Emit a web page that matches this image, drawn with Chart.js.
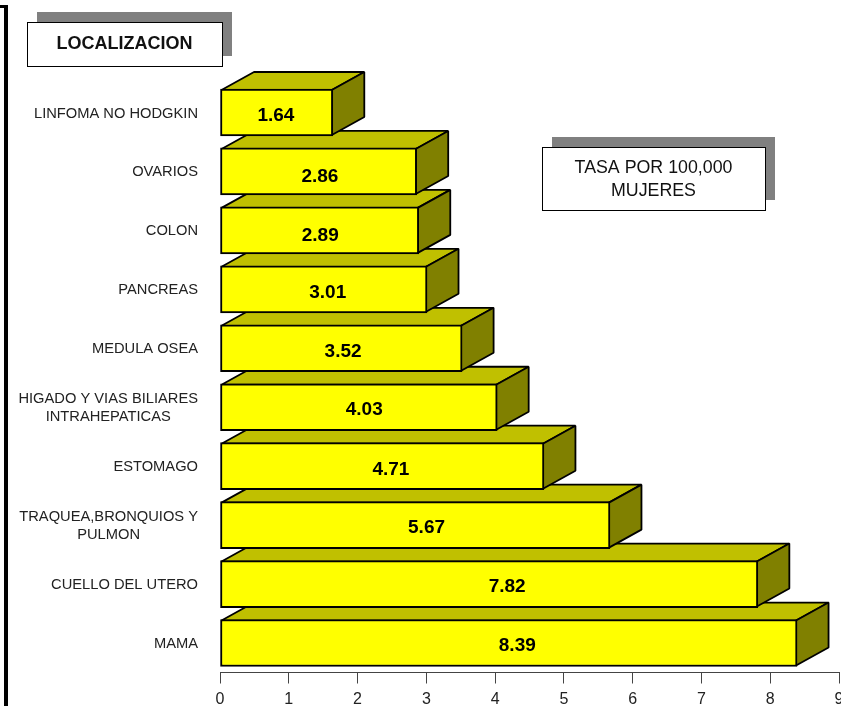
<!DOCTYPE html>
<html>
<head>
<meta charset="utf-8">
<title>Localizacion</title>
<script src="https://cdn.jsdelivr.net/npm/chart.js@4"></script>
<style>
    html, body { margin: 0; padding: 0; background: #fff; overflow: hidden; }
    #wrap { width: 841px; height: 706px; }
</style>
</head>
<body>
<div id="wrap"><canvas id="barChart" width="841" height="706"></canvas></div>
<script>
const categories = [
    'LINFOMA NO HODGKIN', 'OVARIOS', 'COLON', 'PANCREAS', 'MEDULA OSEA',
    ['HIGADO Y VIAS BILIARES', 'INTRAHEPATICAS'], 'ESTOMAGO',
    ['TRAQUEA,BRONQUIOS Y', 'PULMON'], 'CUELLO DEL UTERO', 'MAMA'
];
const tasas = [1.64, 2.86, 2.89, 3.01, 3.52, 4.03, 4.71, 5.67, 7.82, 8.39];
const fontName = '"Liberation Sans", Arial, sans-serif';
const depthX = 32.5;
const depthY = -18;

// sides and tops of the bars, bottom bar first so upper bars cover lower ones
const depthPlugin = {
    id: 'depth',
    beforeDatasetsDraw(chart) {
        const ctx = chart.ctx;
        const bars = chart.getDatasetMeta(0).data;
        ctx.save();
        ctx.lineWidth = 1.8;
        ctx.strokeStyle = '#000';
        ctx.lineJoin = 'bevel';
        for (let i = bars.length - 1; i >= 0; i--) {
            const bar = bars[i];
            const left = bar.base + 1;
            const right = bar.x - 1;
            const top = bar.y - bar.height / 2 + 1;
            const bottom = bar.y + bar.height / 2 - 1;
            ctx.fillStyle = '#C0C000';
            ctx.beginPath();
            ctx.moveTo(left, top);
            ctx.lineTo(left + depthX, top + depthY);
            ctx.lineTo(right + depthX, top + depthY);
            ctx.lineTo(right, top);
            ctx.closePath();
            ctx.fill();
            ctx.stroke();
            ctx.fillStyle = '#808000';
            ctx.beginPath();
            ctx.moveTo(right, top);
            ctx.lineTo(right + depthX, top + depthY);
            ctx.lineTo(right + depthX, bottom + depthY);
            ctx.lineTo(right, bottom);
            ctx.closePath();
            ctx.fill();
            ctx.stroke();
        }
        ctx.restore();
    }
};

// the labels were placed by hand in the original, so they sit a bit off the bar centre
const nudgeX = [-0.7, 1.3, 0.6, 4, 1.8, 5.4, 8.7, 11.3, 18, 8.5];
const nudgeY = [2.9, 5.3, 5, 3.4, 3.4, 3, 3.8, 2.9, 2.7, 2.9];

const valueLabels = {
    id: 'valueLabels',
    afterDatasetsDraw(chart) {
        const ctx = chart.ctx;
        const bars = chart.getDatasetMeta(0).data;
        ctx.save();
        ctx.fillStyle = '#000';
        ctx.font = 'bold 19px ' + fontName;
        ctx.textAlign = 'center';
        ctx.textBaseline = 'middle';
        bars.forEach((bar, i) => {
            ctx.fillText(tasas[i].toFixed(2), (bar.base + bar.x) / 2 + nudgeX[i], bar.y + nudgeY[i]);
        });
        ctx.restore();
    }
};

// the two-line categories are centred on their longest line, which chart.js ticks can't do
const categoryLabels = {
    id: 'categoryLabels',
    afterDraw(chart) {
        const ctx = chart.ctx;
        const scale = chart.scales.y;
        ctx.save();
        ctx.fillStyle = '#222';
        ctx.font = '14.7px ' + fontName;
        ctx.textBaseline = 'middle';
        categories.forEach((label, i) => {
            const y = scale.getPixelForValue(i) + 1;
            const lines = [].concat(label);
            const widest = Math.max(...lines.map(line => ctx.measureText(line).width));
            ctx.textAlign = 'center';
            lines.forEach((line, n) => {
                ctx.fillText(line, 198 - widest / 2, y + (n - (lines.length - 1) / 2) * 18);
            });
        });
        ctx.restore();
    }
};

function drawBox(ctx, x, y, w, h, lines, font) {
    ctx.fillStyle = '#808080';
    ctx.fillRect(x + 10, y - 10, w, h);
    ctx.fillStyle = '#fff';
    ctx.fillRect(x, y, w, h);
    ctx.strokeStyle = '#000';
    ctx.lineWidth = 1;
    ctx.strokeRect(x + 0.5, y + 0.5, w, h);
    ctx.fillStyle = '#111';
    ctx.font = font;
    ctx.textAlign = 'center';
    ctx.textBaseline = 'middle';
    const lineHeight = 23;
    const middle = y + h / 2 + (lines.length - 1) * 1.5;
    lines.forEach((line, i) => {
        ctx.fillText(line, x + w / 2, middle + (i - (lines.length - 1) / 2) * lineHeight);
    });
}

const extras = {
    id: 'extras',
    afterDraw(chart) {
        const ctx = chart.ctx;
        ctx.save();
        // heavy rule on the left edge of the page
        ctx.fillStyle = '#000';
        ctx.fillRect(0, 5, 8, 3);
        ctx.fillRect(4, 5, 4, 701);
        drawBox(ctx, 27, 22, 195, 44, ['LOCALIZACION'], 'bold 18px ' + fontName);
        drawBox(ctx, 542, 147, 223, 63, ['TASA POR 100,000', 'MUJERES'], '17.8px ' + fontName);
        ctx.restore();
    }
};

new Chart(document.getElementById('barChart').getContext('2d'), {
    type: 'bar',
    data: {
        labels: categories,
        datasets: [{
            data: tasas,
            backgroundColor: '#FFFF00',
            borderColor: '#000',
            borderWidth: 2,
            borderSkipped: false,
            barThickness: 47
        }]
    },
    options: {
        indexAxis: 'y',
        responsive: false,
        animation: false,
        layout: { padding: { top: 83, right: 2, left: 0, bottom: 0 } },
        plugins: { legend: { display: false }, title: { display: false }, tooltip: { enabled: false } },
        scales: {
            x: {
                min: 0,
                max: 9,
                afterFit(scale) {
                    scale.height = 33.5;
                    scale.paddingLeft = 0;
                    scale.paddingRight = 0;
                },
                border: { color: '#444', width: 1 },
                grid: { drawOnChartArea: false, tickLength: 11, tickColor: '#444' },
                ticks: {
                    stepSize: 1,
                    autoSkip: false,
                    maxRotation: 0,
                    padding: 6,
                    color: '#222',
                    font: { family: fontName, size: 16 }
                }
            },
            y: {
                afterFit(scale) {
                    scale.width = 220;
                    scale.paddingTop = 0;
                    scale.paddingBottom = 0;
                },
                border: { display: false },
                grid: { display: false, drawTicks: false },
                ticks: { display: false }
            }
        }
    },
    plugins: [depthPlugin, valueLabels, categoryLabels, extras]
});
</script>
</body>
</html>
